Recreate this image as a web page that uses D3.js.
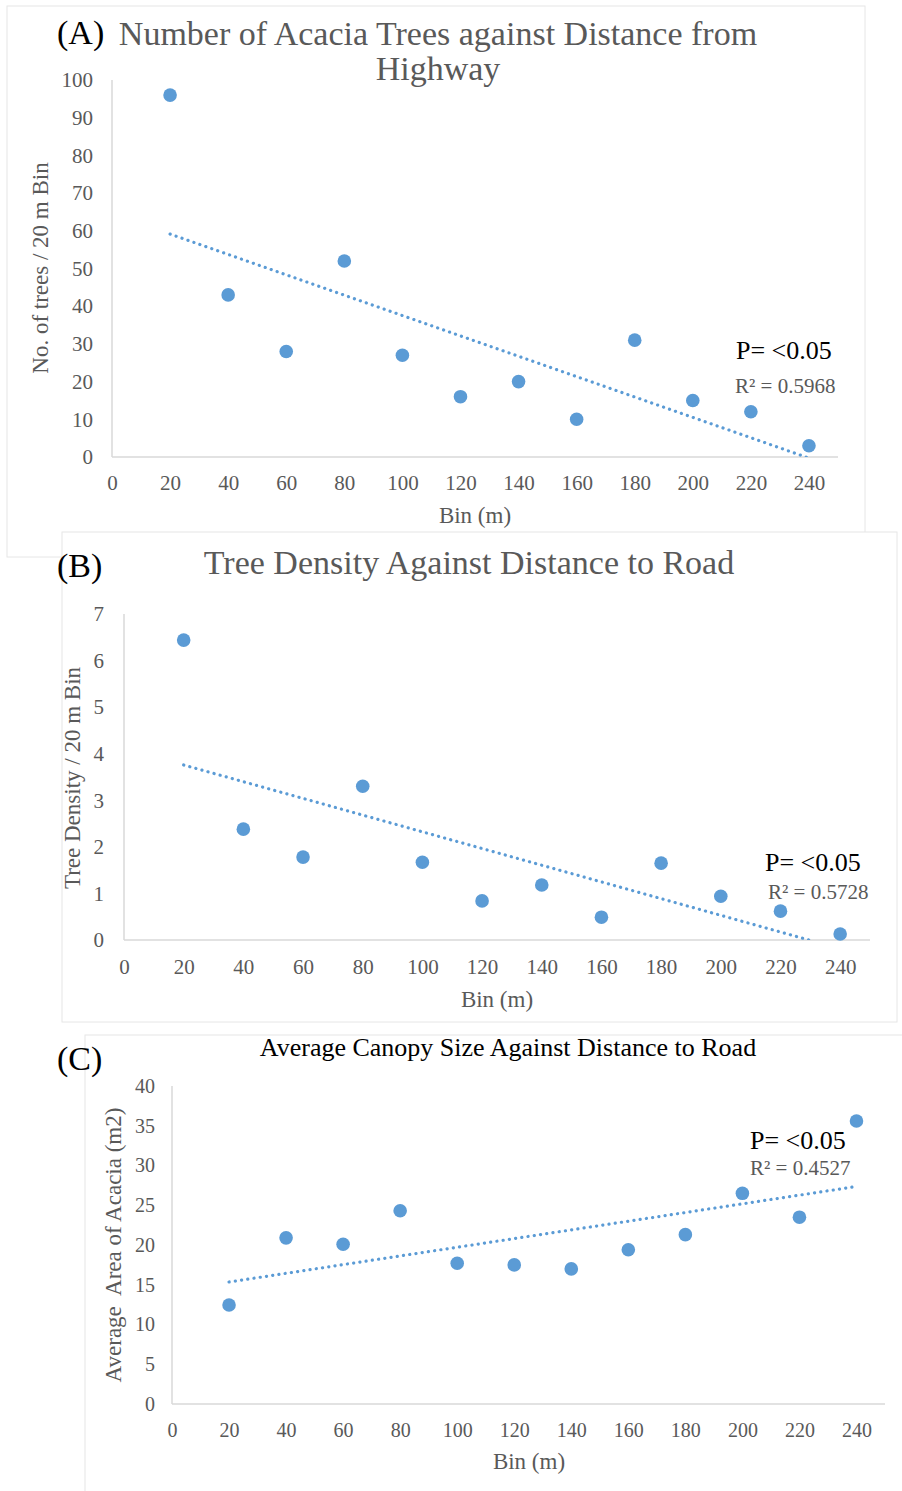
<!DOCTYPE html>
<html>
<head>
<meta charset="utf-8">
<script src="https://cdn.jsdelivr.net/npm/d3@7"></script>
<style>
  html, body { margin: 0; padding: 0; background: #fff; }
  svg { display: block; }
</style>
</head>
<body>
<svg id="chart" width="902" height="1491"></svg>
<script>
// Bins (m) shared by the three panels
const bins = [20, 40, 60, 80, 100, 120, 140, 160, 180, 200, 220, 240];
const binTicks = [0, 20, 40, 60, 80, 100, 120, 140, 160, 180, 200, 220, 240];

// (A) number of acacia trees per 20 m bin
const treeCounts = [96, 43, 28, 52, 27, 16, 20, 10, 31, 15, 12, 3];
const countTicks = [0, 10, 20, 30, 40, 50, 60, 70, 80, 90, 100];

// (B) tree density per 20 m bin
const treeDensity = [6.44, 2.38, 1.78, 3.3, 1.67, 0.84, 1.18, 0.49, 1.65, 0.94, 0.62, 0.13];
const densityTicks = [0, 1, 2, 3, 4, 5, 6, 7];

// (C) average canopy area (m2)
const canopyArea = [12.45, 20.9, 20.1, 24.3, 17.7, 17.5, 17.0, 19.4, 21.3, 26.5, 23.5, 35.6];
const areaTicks = [0, 5, 10, 15, 20, 25, 30, 35, 40];

const color = {
  blue: '#5b9bd5',
  grey: '#595959',
  axis: '#d9d9d9',
  frame: '#e6e6e6'
};
const font = "'Liberation Serif', 'Times New Roman', serif";

const svg = d3.select('#chart').style('font-family', font);

// Least squares fit, like Excel's linear trendline
function linearFit(xs, ys) {
  const mx = d3.mean(xs), my = d3.mean(ys);
  const sxy = d3.sum(xs, (x, i) => (x - mx) * (ys[i] - my));
  const sxx = d3.sum(xs, x => (x - mx) * (x - mx));
  const slope = sxy / sxx;
  return x => my + slope * (x - mx);
}

function drawPanel(p) {
  // chart area frame
  svg.append('rect')
    .attr('x', p.frame[0]).attr('y', p.frame[1])
    .attr('width', p.frame[2]).attr('height', p.frame[3])
    .attr('fill', '#fff')
    .attr('stroke', color.frame);

  const g = svg.append('g');
  const x = d3.scaleLinear().domain([0, 250]).range([p.left, p.right]);
  const y = d3.scaleLinear().domain([0, p.yMax]).range([p.bottom, p.top]);

  // axes, no tick marks (Excel style)
  const xAxis = g.append('g')
    .attr('transform', `translate(0, ${p.bottom})`)
    .call(d3.axisBottom(x).tickValues(binTicks).tickSize(0).tickPadding(p.xPad));
  const yAxis = g.append('g')
    .attr('transform', `translate(${p.left}, 0)`)
    .call(d3.axisLeft(y).tickValues(p.yTicks).tickFormat(d3.format('d')).tickSize(0).tickPadding(p.yPad));

  [xAxis, yAxis].forEach(a => {
    a.select('.domain').attr('stroke', color.axis).attr('stroke-width', 1.5);
    a.selectAll('text')
      .attr('fill', color.grey)
      .attr('font-family', font)
      .attr('font-size', p.tickSize);
  });
  xAxis.selectAll('text').attr('dy', '0.35em').attr('y', p.xPad);
  yAxis.select('.domain').attr('d', `M0,${p.bottom}V${p.top}`);
  xAxis.select('.domain').attr('d', `M${p.left},0H${p.right}`);

  // trendline, clipped to the plot area
  const clipId = 'clip-' + p.key;
  svg.append('clipPath').attr('id', clipId)
    .append('rect')
    .attr('x', p.left).attr('y', p.top - 10)
    .attr('width', p.right - p.left).attr('height', p.bottom - p.top + 10);

  const fit = linearFit(bins, p.values);
  const ends = [bins[0], bins[bins.length - 1]];
  g.append('path')
    .attr('clip-path', `url(#${clipId})`)
    .attr('d', d3.line().x(d => x(d)).y(d => y(fit(d)))(ends))
    .attr('fill', 'none')
    .attr('stroke', color.blue)
    .attr('stroke-width', 3.2)
    .attr('stroke-linecap', 'round')
    .attr('stroke-dasharray', '0.1 6.2');

  // points
  g.selectAll('circle.pt')
    .data(bins)
    .join('circle')
    .attr('class', 'pt')
    .attr('cx', d => x(d))
    .attr('cy', (d, i) => y(p.values[i]))
    .attr('r', 6.8)
    .attr('fill', color.blue);

  // panel letter
  svg.append('text')
    .attr('x', p.letter[0]).attr('y', p.letter[1])
    .attr('font-size', 34)
    .attr('fill', '#000')
    .text(p.id);

  // heading (one or more lines)
  p.heading.forEach((line, i) => {
    svg.append('text')
      .attr('x', p.headPos[0])
      .attr('y', p.headPos[1] + i * p.headLine)
      .attr('text-anchor', 'middle')
      .attr('font-size', p.headSize)
      .attr('fill', p.headColor)
      .text(line);
  });

  // axis titles
  svg.append('text')
    .attr('x', p.xTitle[0]).attr('y', p.xTitle[1])
    .attr('text-anchor', 'middle')
    .attr('dominant-baseline', 'central')
    .attr('font-size', 23)
    .attr('fill', color.grey)
    .text('Bin (m)');

  svg.append('text')
    .attr('transform', `translate(${p.yTitle[0]}, ${p.yTitle[1]}) rotate(-90)`)
    .attr('text-anchor', 'middle')
    .attr('dominant-baseline', 'central')
    .attr('font-size', 23)
    .attr('fill', color.grey)
    .style('white-space', 'pre')
    .text(p.yLabel);

  // significance note and R squared
  svg.append('text')
    .attr('x', p.pPos[0]).attr('y', p.pPos[1])
    .attr('font-size', 26)
    .attr('fill', '#000')
    .text('P= <0.05');
  svg.append('text')
    .attr('x', p.rPos[0]).attr('y', p.rPos[1])
    .attr('font-size', 21)
    .attr('fill', color.grey)
    .text(p.r2);
}

drawPanel({
  id: '(A)', key: 'a', values: treeCounts, yTicks: countTicks, yMax: 100,
  frame: [7, 6, 858, 551],
  left: 112, right: 838, top: 80, bottom: 457,
  xPad: 26, yPad: 19, tickSize: 21,
  letter: [57, 44],
  heading: ['Number of Acacia Trees against Distance from', 'Highway'],
  headPos: [438, 45], headLine: 35, headSize: 34, headColor: color.grey,
  xTitle: [475, 515], yTitle: [40, 268], yLabel: 'No. of trees / 20 m Bin',
  pPos: [736, 359], rPos: [735, 393], r2: 'R² = 0.5968'
});

drawPanel({
  id: '(B)', key: 'b', values: treeDensity, yTicks: densityTicks, yMax: 7,
  frame: [62, 532, 835, 490],
  left: 124, right: 870, top: 614, bottom: 940,
  xPad: 27, yPad: 20, tickSize: 21,
  letter: [57, 577],
  heading: ['Tree Density Against Distance to Road'],
  headPos: [469, 574], headLine: 35, headSize: 34, headColor: color.grey,
  xTitle: [497, 999], yTitle: [72, 778], yLabel: 'Tree Density / 20 m Bin',
  pPos: [765, 871], rPos: [768, 899], r2: 'R² = 0.5728'
});

drawPanel({
  id: '(C)', key: 'c', values: canopyArea, yTicks: areaTicks, yMax: 40,
  frame: [85, 1035, 830, 470],
  left: 172, right: 885, top: 1086, bottom: 1404,
  xPad: 26, yPad: 17, tickSize: 20,
  letter: [57, 1070],
  heading: ['Average Canopy Size Against Distance to Road'],
  headPos: [508, 1056], headLine: 30, headSize: 26, headColor: '#000',
  xTitle: [529, 1461], yTitle: [113, 1245], yLabel: 'Average  Area of Acacia (m2)',
  pPos: [750, 1149], rPos: [750, 1175], r2: 'R² = 0.4527'
});
</script>
</body>
</html>
